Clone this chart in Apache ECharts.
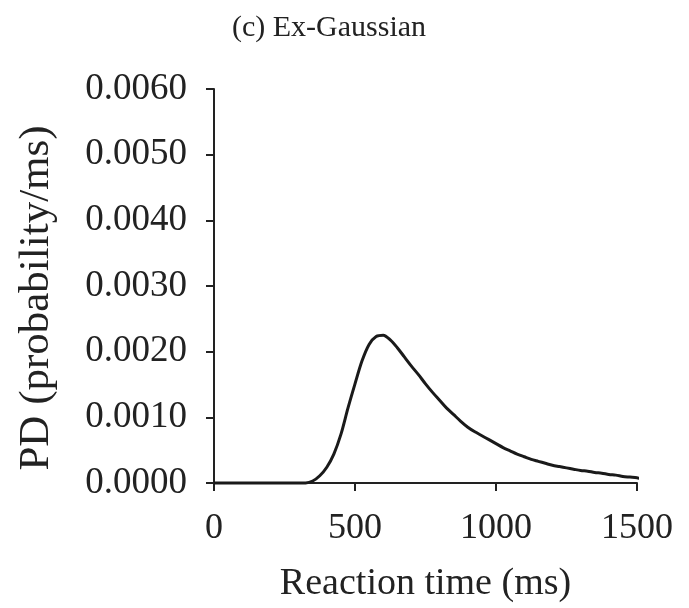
<!DOCTYPE html>
<html>
<head>
<meta charset="utf-8">
<script src="https://cdn.jsdelivr.net/npm/echarts@6/dist/echarts.min.js"></script>
<style>
html,body{margin:0;padding:0;background:#fff;}
#chart{width:689px;height:608px;}
</style>
</head>
<body>
<div id="chart"></div>
<script>
var titleText = "(c) Ex-Gaussian";
var xName = "Reaction time (ms)";
var yName = "PD (probability/ms)";
var xTicks = [0, 500, 1000, 1500];
var yTicks = [0, 0.001, 0.002, 0.003, 0.004, 0.005, 0.006];
var times = [0,25,50,75,100,125,150,175,200,225,250,275,300,325,350,375,400,425,450,475,500,525,550,575,600,625,650,675,700,725,750,775,800,825,850,875,900,925,950,975,1000,1025,1050,1075,1100,1125,1150,1175,1200,1225,1250,1275,1300,1325,1350,1375,1400,1425,1450,1475,1500,1510];
var density = [0,0,0,0,0,0,0,0,0,0,0,0,0,0,0.00003,0.00011,0.00024,0.00044,0.00074,0.00114,0.00151,0.00186,0.00211,0.00223,0.00225,0.00218,0.00206,0.00192,0.00178,0.00165,0.00151,0.00138,0.00126,0.00114,0.00104,0.00094,0.00085,0.00078,0.00072,0.00066,0.00060,0.00054,0.00049,0.00044,0.00040,0.00036,0.00033,0.00030,0.00027,0.00025,0.00023,0.00021,0.00019,0.00018,0.00016,0.00015,0.00013,0.00012,0.00010,0.00009,0.00008,0.00007];

var font = "'Liberation Serif', 'Times New Roman', serif";
var ink = '#222';
var chart = echarts.init(document.getElementById('chart'), null, {renderer: 'canvas'});
var data = times.map(function (t, i) { return [t, density[i]]; });
chart.setOption({
  animation: false,
  backgroundColor: '#fff',
  title: {
    text: titleText,
    left: 227, top: 8,
    textStyle: {fontFamily: font, fontWeight: 'normal', fontSize: 30, color: ink}
  },
  grid: {left: 214, right: 52, top: 89, bottom: 120, containLabel: false},
  xAxis: {
    type: 'value', min: xTicks[0], max: xTicks[xTicks.length - 1], interval: 500,
    name: xName, nameLocation: 'middle', nameGap: 82,
    nameTextStyle: {fontFamily: font, fontSize: 38, color: ink},
    axisLine: {show: true, onZero: false, lineStyle: {color: ink, width: 2}},
    axisTick: {show: true, inside: false, length: 8, lineStyle: {color: ink, width: 2}},
    axisLabel: {fontFamily: font, fontSize: 36, color: ink, margin: 28,
      formatter: function (v) { return String(v); }},
    splitLine: {show: false}
  },
  yAxis: {
    type: 'value', min: yTicks[0], max: yTicks[yTicks.length - 1], interval: 0.001,
    name: yName, nameLocation: 'middle', nameGap: 156, nameRotate: 90,
    nameTextStyle: {fontFamily: font, fontSize: 43, color: ink, padding: [0, 24, 0, 0]},
    axisLine: {show: true, lineStyle: {color: ink, width: 2}},
    axisTick: {show: true, inside: false, length: 8, lineStyle: {color: ink, width: 2}},
    axisLabel: {fontFamily: font, fontSize: 37, color: ink, margin: 27,
      formatter: function (v) { return v.toFixed(4); }},
    splitLine: {show: false}
  },
  series: [{
    type: 'line', data: data, showSymbol: false, smooth: 0.3, clip: false,
    lineStyle: {color: '#1a1a1a', width: 3}
  }]
});
</script>
</body>
</html>
